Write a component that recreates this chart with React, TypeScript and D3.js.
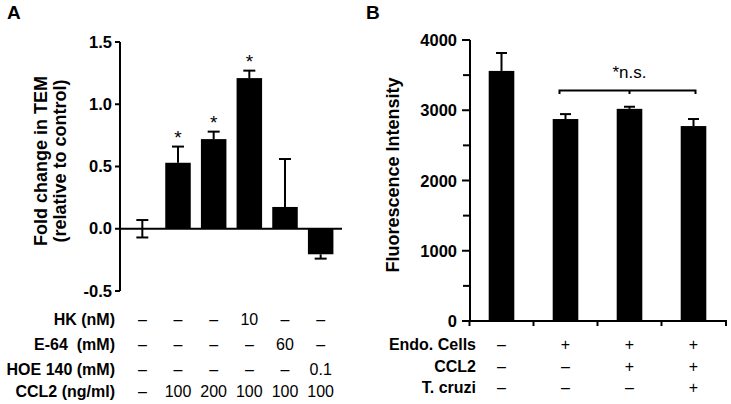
import React from 'react';
import * as d3 from 'd3';

const catsA = ['ctrl', 'ccl2_100', 'ccl2_200', 'hk', 'e64', 'hoe'];
const valuesA = [0, 0.53, 0.72, 1.21, 0.175, -0.205];
const errA = [0.07, 0.13, 0.06, 0.06, 0.385, 0.035];
const sigA = [false, true, true, true, false, false];
const ticksA = [-0.5, 0, 0.5, 1.0, 1.5];
const rowLabelsA = ['HK (nM)', 'E-64  (mM)', 'HOE 140 (mM)', 'CCL2 (ng/ml)'];
const rowHK = ['–', '–', '–', '10', '–', '–'];
const rowE64 = ['–', '–', '–', '–', '60', '–'];
const rowHOE = ['–', '–', '–', '–', '–', '0.1'];
const rowCCL2A = ['–', '100', '200', '100', '100', '100'];

const catsB = ['none', 'endo', 'endo_ccl2', 'endo_ccl2_tc'];
const valuesB = [3560, 2875, 3020, 2775];
const errB = [255, 70, 30, 100];
const ticksBMajor = [0, 1000, 2000, 3000, 4000];
const ticksBMinor = [500, 1500, 2500, 3500];
const rowLabelsB = ['Endo. Cells', 'CCL2', 'T. cruzi'];
const rowEndo = ['–', '+', '+', '+'];
const rowCCL2B = ['–', '–', '+', '+'];
const rowTc = ['–', '–', '–', '+'];

const FONT = '"Liberation Sans", Arial, Helvetica, sans-serif';

export default function App() {
  const xA = d3.scaleBand<string>().domain(catsA).range([124.5, 338.5]).paddingInner(0.285).paddingOuter(0.1425);
  const yA = d3.scaleLinear().domain([-0.5, 1.5]).range([291, 42]);
  const axA = 120;
  const xB = d3.scaleBand<string>().domain(catsB).range([469.5, 725.5]).paddingInner(0.6).paddingOuter(0.3);
  const yB = d3.scaleLinear().domain([0, 4000]).range([321, 40]);
  const axB = 470;

  const rowsA = [rowHK, rowE64, rowHOE, rowCCL2A];
  const rowYA = [325, 350, 375, 397];
  const rowsB = [rowEndo, rowCCL2B, rowTc];
  const rowYB = [350, 372, 393];

  const cA = (i: number) => (xA(catsA[i]) as number) + xA.bandwidth() / 2;
  const cB = (i: number) => (xB(catsB[i]) as number) + xB.bandwidth() / 2;
  const capA = 6;
  const capB = 5.5;

  const bracketY = 90.5;
  const bL = cB(1) - 6;
  const bR = cB(3) + 2;
  const bM = cB(2);

  return (
    <svg width={731} height={404} style={{ position: 'absolute', left: 0, top: 0, background: '#fff' }} fontFamily={FONT}>
      <rect x={0} y={0} width={731} height={404} fill="#fff" />
      <text x={7} y={19} fontSize={19} fontWeight="bold">A</text>
      <text x={366} y={19} fontSize={19} fontWeight="bold">B</text>

      {/* ===== Panel A ===== */}
      <text transform={`translate(47,161) rotate(-90)`} textAnchor="middle" fontSize={18} fontWeight="bold">Fold change in TEM</text>
      <text transform={`translate(66,161) rotate(-90)`} textAnchor="middle" fontSize={18} fontWeight="bold">(relative to control)</text>

      {catsA.map((c, i) => {
        const v = valuesA[i];
        const x = xA(c) as number;
        const y0 = yA(0);
        const y1 = yA(v);
        return (
          <rect key={c} x={x} y={Math.min(y0, y1)} width={xA.bandwidth()} height={Math.abs(y1 - y0)} fill="#000" />
        );
      })}
      {catsA.map((c, i) => {
        const v = valuesA[i];
        const cx = cA(i);
        const e = errA[i];
        const both = v === 0;
        const top = v >= 0 ? yA(v + e) : yA(v);
        const bottom = v >= 0 ? (both ? yA(v - e) : yA(v)) : yA(v - e);
        return (
          <g key={c} stroke="#000" strokeWidth={2}>
            <line x1={cx} x2={cx} y1={top} y2={bottom} />
            {(v >= 0) && <line x1={cx - capA} x2={cx + capA} y1={top} y2={top} />}
            {(v < 0 || both) && <line x1={cx - capA} x2={cx + capA} y1={bottom} y2={bottom} />}
          </g>
        );
      })}
      {catsA.map((c, i) => sigA[i] ? (
        <text key={c} x={cA(i)} y={yA(valuesA[i] + errA[i]) - 3} textAnchor="middle" fontSize={19}>*</text>
      ) : null)}

      <line x1={axA} x2={axA} y1={yA(1.5)} y2={yA(-0.5)} stroke="#000" strokeWidth={2} />
      {ticksA.map(t => (
        <g key={t}>
          <line x1={axA - 5} x2={axA} y1={yA(t)} y2={yA(t)} stroke="#000" strokeWidth={2} />
          <text x={axA - 8} y={yA(t) + 5.5} textAnchor="end" fontSize={16.5} fontWeight="bold">{t.toFixed(1)}</text>
        </g>
      ))}
      <line x1={axA} x2={342} y1={yA(0)} y2={yA(0)} stroke="#000" strokeWidth={2} />

      {rowLabelsA.map((lab, r) => (
        <g key={lab}>
          <text x={115} y={rowYA[r]} textAnchor="end" fontSize={16} fontWeight="bold" style={{ whiteSpace: 'pre' }}>{lab}</text>
          {rowsA[r].map((s, i) => (
            <text key={i} x={cA(i)} y={rowYA[r]} textAnchor="middle" fontSize={16}>{s}</text>
          ))}
        </g>
      ))}

      {/* ===== Panel B ===== */}
      <text transform={`translate(399,175) rotate(-90)`} textAnchor="middle" fontSize={18} fontWeight="bold">Fluorescence Intensity</text>

      {catsB.map((c, i) => (
        <rect key={c} x={xB(c) as number} y={yB(valuesB[i])} width={xB.bandwidth()} height={yB(0) - yB(valuesB[i])} fill="#000" />
      ))}
      {catsB.map((c, i) => {
        const cx = cB(i);
        const top = yB(valuesB[i] + errB[i]);
        return (
          <g key={c} stroke="#000" strokeWidth={2}>
            <line x1={cx} x2={cx} y1={top} y2={yB(valuesB[i])} />
            <line x1={cx - capB} x2={cx + capB} y1={top} y2={top} />
          </g>
        );
      })}

      <path d={`M${bL},${bracketY + 3.5}V${bracketY}H${bR}V${bracketY + 3.5}M${bM},${bracketY}V${bracketY + 3.5}`} fill="none" stroke="#000" strokeWidth={2} />
      <text x={bM} y={78} textAnchor="middle" fontSize={17}>*n.s.</text>

      <line x1={axB} x2={axB} y1={yB(4000)} y2={yB(0)} stroke="#000" strokeWidth={2} />
      {ticksBMajor.map(t => (
        <g key={t}>
          <line x1={axB - 8} x2={axB} y1={yB(t)} y2={yB(t)} stroke="#000" strokeWidth={2} />
          <text x={457} y={yB(t) + 6} textAnchor="end" fontSize={16.5} fontWeight="bold">{t}</text>
        </g>
      ))}
      {ticksBMinor.map(t => (
        <line key={t} x1={axB - 7} x2={axB} y1={yB(t)} y2={yB(t)} stroke="#000" strokeWidth={2} />
      ))}
      <line x1={axB - 1} x2={727} y1={yB(0)} y2={yB(0)} stroke="#000" strokeWidth={2} />
      {catsB.map((c, i) => {
        const bx = (xB(c) as number) - xB.step() * xB.paddingOuter();
        return <line key={c} x1={bx} x2={bx} y1={yB(0)} y2={yB(0) + 5} stroke="#000" strokeWidth={2} />;
      })}
      <line x1={726} x2={726} y1={yB(0)} y2={yB(0) + 5} stroke="#000" strokeWidth={2} />

      {rowLabelsB.map((lab, r) => (
        <g key={lab}>
          <text x={476} y={rowYB[r]} textAnchor="end" fontSize={16} fontWeight="bold">{lab}</text>
          {rowsB[r].map((s, i) => (
            <text key={i} x={cB(i)} y={rowYB[r]} textAnchor="middle" fontSize={16}>{s}</text>
          ))}
        </g>
      ))}
    </svg>
  );
}
